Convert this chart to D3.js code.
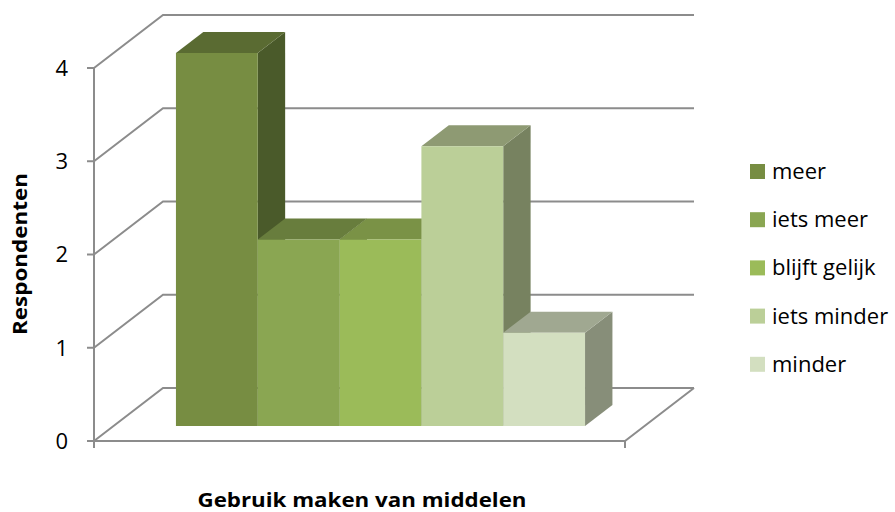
<!DOCTYPE html>
<html>
<head>
<meta charset="utf-8">
<script src="https://cdn.jsdelivr.net/npm/d3@7"></script>
<style>
  html, body { margin: 0; padding: 0; background: #fff; }
  svg { display: block; }
  text { font-family: "Open Sans", "Noto Sans", sans-serif; fill: #000; }
</style>
</head>
<body>
<div id="chart"></div>
<script>
// Chart data
const category = "Gebruik maken van middelen";
const seriesNames = ["meer", "iets meer", "blijft gelijk", "iets minder", "minder"];
const seriesValues = [4, 2, 2, 3, 1];
const tickValues = [0, 1, 2, 3, 4];
const yAxisTitle = "Respondenten";

// Face colours per series: front, top, side
const frontColors = ["#778D42", "#8AA652", "#9BBB59", "#BBCF98", "#D3DFC0"];
const topColors   = ["#5A6B32", "#687D3D", "#7A9246", "#8E9A73", "#A0A891"];
const sideColors  = ["#4A5A2A", "#56683A", "#647A37", "#778260", "#878E79"];

const width = 895, height = 512;
const svg = d3.select("#chart").append("svg")
  .attr("width", width).attr("height", height);

// 3D frame: front floor corner, floor width, depth vector
const ox = 94, floorW = 531;
const depth = { dx: 69, dy: -53 };
const y = d3.scaleLinear().domain([0, 4]).range([441, 68]);

// project (u along width, v value, t depth 0..1) to screen
const P = (u, v, t) => [ox + u + depth.dx * t, y(v) + depth.dy * t];

const cat = d3.scaleBand().domain([category]).range([0, floorW])
  .paddingOuter(0.149).align(0.512);
const xs = d3.scaleBand().domain(seriesNames)
  .range([cat(category), cat(category) + cat.bandwidth()]);

const gridColor = "#8C8C8C";
const line = d3.line();

// Walls: gridlines on side wall and back wall
const grid = svg.append("g").attr("fill", "none").attr("stroke", gridColor).attr("stroke-width", 2);
tickValues.forEach(v => {
  grid.append("path").attr("d", line([P(0, v, 0), P(0, v, 1), P(floorW, v, 1)]));
});
// Floor front and right edges
grid.append("path").attr("d", line([P(0, 0, 0), P(floorW, 0, 0), P(floorW, 0, 1)]));
// Value axis and ticks
grid.append("path").attr("d", line([P(0, 4, 0), [P(0, 0, 0)[0], P(0, 0, 0)[1] + 7]]));
grid.append("path").attr("d", line([P(floorW, 0, 0), [P(floorW, 0, 0)[0], P(floorW, 0, 0)[1] + 7]]));
tickValues.forEach(v => {
  const p = P(0, v, 0);
  grid.append("path").attr("d", line([[p[0] - 7, p[1]], p]));
});

// Tick labels
svg.append("g").selectAll("text").data(tickValues).join("text")
  .attr("x", ox - 26).attr("y", d => y(d))
  .attr("dy", "0.36em").attr("text-anchor", "end")
  .attr("font-size", 22)
  .text(d => d);

// Bars
const t0 = 0.283, t1 = 0.68;
const bars = svg.append("g");
seriesNames.forEach((name, i) => {
  const v = seriesValues[i];
  const u0 = xs(name), u1 = u0 + xs.bandwidth();
  const g = bars.append("g");
  // right side face
  g.append("path").attr("fill", sideColors[i])
    .attr("d", line([P(u1, 0, t0), P(u1, v, t0), P(u1, v, t1), P(u1, 0, t1)]) + "Z");
  // top face
  g.append("path").attr("fill", topColors[i])
    .attr("d", line([P(u0, v, t0), P(u1, v, t0), P(u1, v, t1), P(u0, v, t1)]) + "Z");
  // front face
  g.append("path").attr("fill", frontColors[i])
    .attr("d", line([P(u0, 0, t0), P(u1, 0, t0), P(u1, v, t0), P(u0, v, t0)]) + "Z");
});

// Axis titles
svg.append("text")
  .attr("transform", "translate(27,254) rotate(-90)")
  .attr("text-anchor", "middle")
  .attr("font-size", 19).attr("font-weight", "bold")
  .attr("textLength", 162).attr("lengthAdjust", "spacingAndGlyphs")
  .text(yAxisTitle);

svg.append("text")
  .attr("x", 362).attr("y", 507)
  .attr("text-anchor", "middle")
  .attr("font-size", 20).attr("font-weight", "bold")
  .attr("textLength", 329).attr("lengthAdjust", "spacingAndGlyphs")
  .text(category);

// Legend
const legend = svg.append("g").attr("transform", "translate(750,164)");
const item = legend.selectAll("g").data(seriesNames).join("g")
  .attr("transform", (d, i) => `translate(0,${i * 48.2})`);
item.append("rect").attr("width", 15).attr("height", 15)
  .attr("fill", (d, i) => frontColors[i]);
item.append("text").attr("x", 22).attr("y", 15)
  .attr("font-size", 22).attr("fill", "#111")
  .text(d => d);
</script>
</body>
</html>
